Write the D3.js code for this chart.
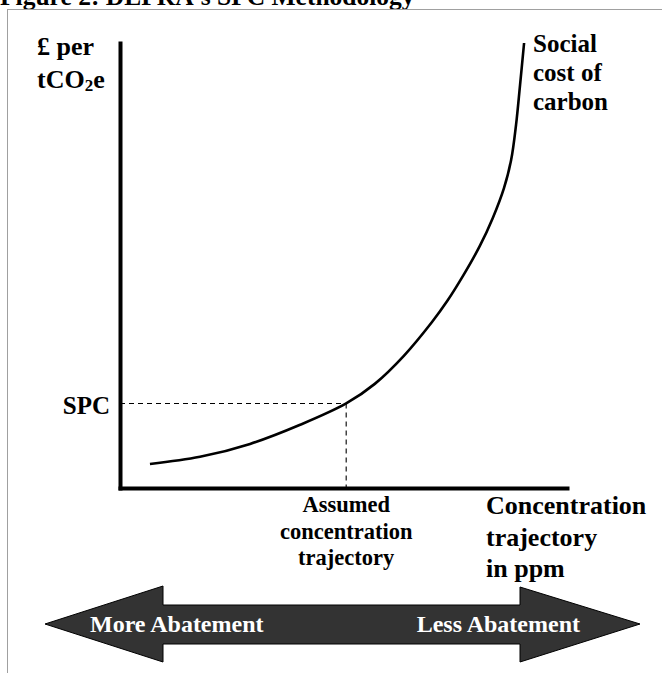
<!DOCTYPE html>
<html>
<head>
<meta charset="utf-8">
<script src="https://cdn.jsdelivr.net/npm/d3@7"></script>
<style>
    body { margin: 0; background: #fff; }
    svg text { font-family: "Liberation Serif", "Times New Roman", serif; font-weight: bold; }
</style>
</head>
<body>
<div class="chart-container"></div>
<script>
// Curve values (abstract units: concentration 0-100, cost 0-100)
const concentration = [6.7, 17.9, 29.1, 40.3, 50.6, 57.0, 63.5, 69.8, 73.2, 76.7, 80.5, 83.4, 85.9, 87.5, 88.6, 89.5, 90.4];
const cost = [5.4, 7.0, 9.9, 14.2, 19.0, 23.4, 29.7, 37.3, 42.0, 47.6, 54.4, 60.7, 67.4, 73.7, 81.6, 90.6, 100];

// Assumed trajectory / SPC point
const spcConcentration = 50.6;
const spcCost = 19.0;

const title = "Figure 2: DEFRA's SPC Methodology";
const yLabel = ["£ per", "tCO", "2", "e"];
const curveLabel = ["Social", "cost of", "carbon"];
const xLabel = ["Concentration", "trajectory", "in ppm"];
const assumedLabel = ["Assumed", "concentration", "trajectory"];
const arrowLabels = ["More Abatement", "Less Abatement"];

function draw() {
    const width = 662;
    const height = 673;

    const x = d3.scaleLinear()
        .domain([0, 100])
        .range([120, 567]);

    const y = d3.scaleLinear()
        .domain([0, 100])
        .range([488, 43]);

    const svg = d3.select('.chart-container').append("svg")
        .attr("width", width)
        .attr("height", height);

    // Title (cropped at top in the original)
    svg.append("text")
        .attr("x", 0)
        .attr("y", 5)
        .style("font-size", "25.5px")
        .text(title);

    // Frame
    svg.append("rect")
        .attr("x", 7.5)
        .attr("y", 9.5)
        .attr("width", 700)
        .attr("height", 700)
        .attr("fill", "none")
        .attr("stroke", "#a0a0a0")
        .attr("stroke-width", 1);

    // Axes
    const xAxis = svg.append("g")
        .attr("transform", `translate(0,${y(0)})`)
        .call(d3.axisBottom(x).ticks(0).tickSizeOuter(0));

    const yAxis = svg.append("g")
        .attr("transform", `translate(${x(0)},0)`)
        .call(d3.axisLeft(y).ticks(0).tickSizeOuter(0));

    [xAxis, yAxis].forEach(a => a.select(".domain")
        .attr("stroke", "#000")
        .attr("stroke-width", 4)
        .attr("stroke-linecap", "square"));

    // Dashed guides
    svg.append("line")
        .attr("x1", x(0))
        .attr("x2", x(spcConcentration))
        .attr("y1", y(spcCost))
        .attr("y2", y(spcCost))
        .attr("stroke", "#000")
        .attr("stroke-width", 1.1)
        .attr("stroke-dasharray", "5,4");

    svg.append("line")
        .attr("x1", x(spcConcentration))
        .attr("x2", x(spcConcentration))
        .attr("y1", y(spcCost))
        .attr("y2", y(0))
        .attr("stroke", "#000")
        .attr("stroke-width", 1.1)
        .attr("stroke-dasharray", "5,4");

    // Social cost of carbon curve
    const line = d3.line()
        .x(d => x(d[0]))
        .y(d => y(d[1]))
        .curve(d3.curveCatmullRom.alpha(0.5));

    svg.append("path")
        .datum(d3.zip(concentration, cost))
        .attr("d", line)
        .attr("fill", "none")
        .attr("stroke", "#000")
        .attr("stroke-width", 2.6);

    // Y label
    svg.append("text")
        .attr("x", 37)
        .attr("y", 55)
        .style("font-size", "26px")
        .text(yLabel[0]);

    const yl = svg.append("text")
        .attr("x", 37)
        .attr("y", 88)
        .style("font-size", "26px");
    yl.append("tspan").text(yLabel[1]);
    yl.append("tspan").style("font-size", "17px").attr("dy", 3).text(yLabel[2]);
    yl.append("tspan").attr("dy", -3).text(yLabel[3]);

    // Curve label
    svg.selectAll(".curve-label")
        .data(curveLabel)
        .enter()
        .append("text")
        .attr("class", "curve-label")
        .attr("x", 533)
        .attr("y", (d, i) => 52 + i * 29)
        .style("font-size", "25px")
        .text(d => d);

    // SPC label
    svg.append("text")
        .attr("x", 110)
        .attr("y", y(spcCost) + 11)
        .attr("text-anchor", "end")
        .style("font-size", "25px")
        .text("SPC");

    // Assumed trajectory label
    svg.selectAll(".assumed-label")
        .data(assumedLabel)
        .enter()
        .append("text")
        .attr("class", "assumed-label")
        .attr("x", x(spcConcentration))
        .attr("y", (d, i) => 512 + i * 26.5)
        .attr("text-anchor", "middle")
        .style("font-size", "22.5px")
        .text(d => d);

    // X label
    svg.selectAll(".x-label")
        .data(xLabel)
        .enter()
        .append("text")
        .attr("class", "x-label")
        .attr("x", 486)
        .attr("y", (d, i) => 514 + i * 31.5)
        .style("font-size", "26px")
        .text(d => d);

    // Double arrow
    const arrow = [
        [45, 624], [163, 586], [163, 605], [520, 605], [520, 587], [640, 624],
        [520, 662], [520, 644], [163, 644], [163, 662]
    ];
    svg.append("polygon")
        .attr("points", arrow.map(p => p.join(",")).join(" "))
        .attr("fill", "#333333")
        .attr("stroke", "#000")
        .attr("stroke-width", 1);

    svg.append("text")
        .attr("x", 90)
        .attr("y", 632)
        .attr("fill", "#fff")
        .style("font-size", "24px")
        .text(arrowLabels[0]);

    svg.append("text")
        .attr("x", 580)
        .attr("y", 632)
        .attr("text-anchor", "end")
        .attr("fill", "#fff")
        .style("font-size", "24px")
        .text(arrowLabels[1]);
}

draw();
</script>
</body>
</html>
